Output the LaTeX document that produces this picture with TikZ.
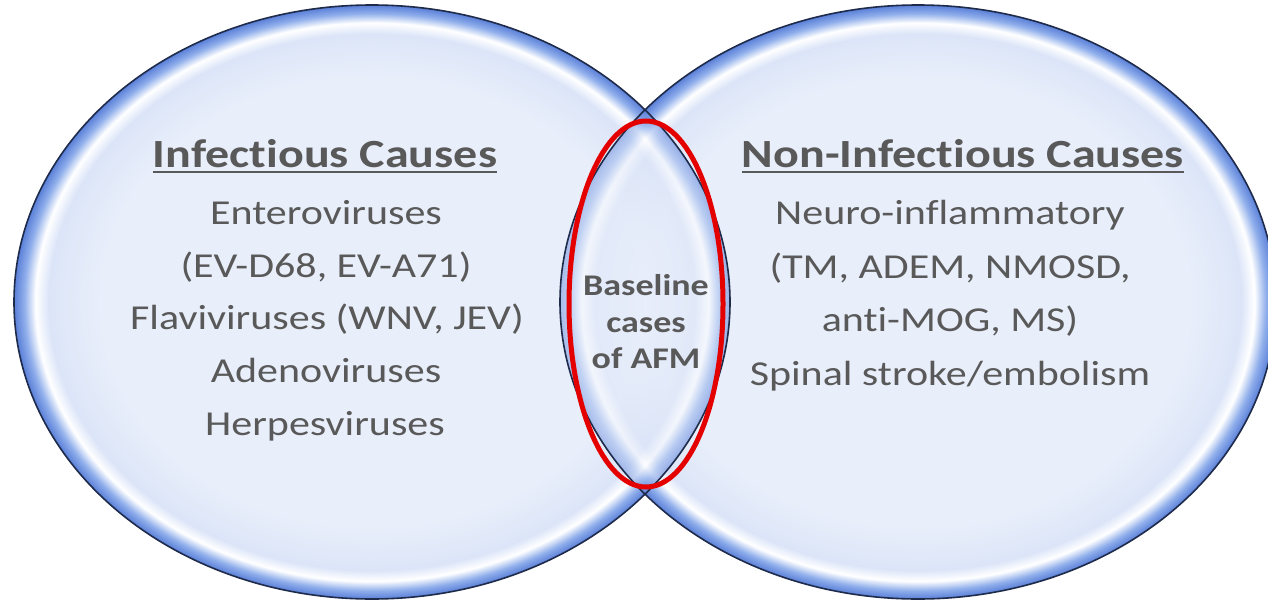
\documentclass[tikz,border=0pt]{standalone}
\usepackage{fontspec}
\setmainfont[FakeStretch=1.2,Ligatures=NoCommon]{Carlito}
\definecolor{vin}{HTML}{E8EEFA}
\definecolor{vin2}{HTML}{DCE5F8}
\definecolor{vmid}{HTML}{8FAEEB}
\definecolor{vrim}{HTML}{5A7FD8}
\definecolor{vline}{HTML}{1E2B4A}
\definecolor{txtgray}{HTML}{595959}
\definecolor{afmred}{HTML}{E50000}
\pgfdeclareradialshading{glass}{\pgfpoint{0bp}{0bp}}{color(0bp)=(vin); color(19bp)=(vin); color(22.6bp)=(vin2); color(23.5bp)=(white); color(24.3bp)=(vmid); color(25bp)=(vrim); color(50bp)=(vrim)}
\tikzset{
  bubble/.style={shading=glass},
  rim/.style={draw=vline, line width=1.6pt},
  head/.style={anchor=base, inner sep=0pt, text=txtgray, font=\fontsize{40}{48}\selectfont\bfseries},
  body/.style={anchor=base, inner sep=0pt, text=txtgray, font=\fontsize{35}{42}\selectfont},
  mid/.style={anchor=base, inner sep=0pt, text=txtgray, font=\fontsize{30}{36}\selectfont\bfseries},
  uline/.style={draw=txtgray, line width=2.6pt}
}
\begin{document}
\begin{tikzpicture}[x=1pt,y=-1pt]
\useasboundingbox (0,0) rectangle (1268,602);
\clip (0,0) rectangle (1268,602);
\fill[white] (0,0) rectangle (1268,602);
% left bubble
\shade[bubble] (372,302) ellipse [x radius=358, y radius=297];
% right bubble
\shade[bubble] (918,302) ellipse [x radius=358, y radius=297];
% left rim showing through inside the overlap
\begin{scope}
  \clip (918,302) ellipse [x radius=358, y radius=297];
  \shade[bubble, fill opacity=0.55] (372,302) ellipse [x radius=358, y radius=297];
\end{scope}
\draw[rim] (372,302) ellipse [x radius=358, y radius=297];
\draw[rim] (918,302) ellipse [x radius=358, y radius=297];
% red highlight of the overlap
\draw[afmred, line width=5pt] (646,304) ellipse [x radius=77, y radius=183];
% left texts
\node[head] (h1) at (325,167) {Infectious Causes};
\draw[uline] ([yshift=-5pt]h1.base west) -- ([yshift=-5pt]h1.base east);
\node[body] (l1) at (326,224) {Enteroviruses};
\node[body] (l2) at (326,277) {(EV-D68, EV-A71)};
\node[body] (l3) at (327,329.5) {Flaviviruses (WNV, JEV)};
\node[body] (l4) at (326,382) {Adenoviruses};
\node[body] (l5) at (325,435) {Herpesviruses};
% right texts
\node[head] (h2) at (963,167) {Non-Infectious Causes};
\draw[uline] ([yshift=-5pt]h2.base west) -- ([yshift=-5pt]h2.base east);
\node[body] (r1) at (950,224) {Neuro-inflammatory};
\node[body] (r2) at (950,278) {(TM, ADEM, NMOSD,};
\node[body] (r3) at (950,331.5) {anti-MOG, MS)};
\node[body] (r4) at (950,385) {Spinal stroke/embolism};
% middle
\node[mid] (m1) at (646,295) {Baseline};
\node[mid] (m2) at (646,332) {cases};
\node[mid] (m3) at (646,368) {of AFM};
\end{tikzpicture}
\end{document}
